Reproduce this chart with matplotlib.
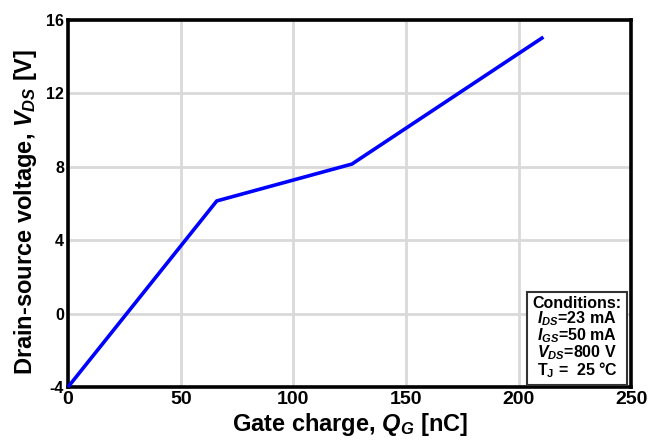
import matplotlib
matplotlib.use("Agg")
import matplotlib.pyplot as plt

# gate charge curve
gate_charge = [0, 66, 126, 211]        # nC
drain_voltage = [-4.0, 6.14, 8.15, 15.07]  # V

x_ticks = [0, 50, 100, 150, 200, 250]
y_ticks = [-4, 0, 4, 8, 12, 16]

conditions = [
    r"$I_{DS}$=23 mA",
    r"$I_{GS}$=50 mA",
    r"$V_{DS}$=800 V",
    r"$\mathrm{T_J}$ =  25 °C",
]

plt.rcParams["font.family"] = ["Liberation Sans", "DejaVu Sans"]
plt.rcParams["font.weight"] = "bold"
plt.rcParams["axes.unicode_minus"] = False
plt.rcParams["mathtext.fontset"] = "custom"
plt.rcParams["mathtext.rm"] = "Liberation Sans:bold"
plt.rcParams["mathtext.it"] = "Liberation Sans:italic:bold"
plt.rcParams["mathtext.bf"] = "Liberation Sans:bold"

fig = plt.figure(figsize=(6.61, 4.40), dpi=100)
ax = fig.add_axes([0.103, 0.1205, 0.852, 0.834])

ax.plot(gate_charge, drain_voltage, color="#0000ff", lw=2.6, zorder=3,
        clip_on=False, solid_capstyle="butt")

ax.set_xlim(0, 250)
ax.set_ylim(-4, 16)
ax.set_xticks(x_ticks)
ax.set_yticks(y_ticks)
ax.grid(True, color="#d9d9d9", lw=2.0, zorder=0)
ax.set_axisbelow(True)
ax.tick_params(axis="x", length=0, labelsize=14, pad=3)
ax.tick_params(axis="y", length=0, labelsize=11.5, pad=3)
for lbl in ax.get_xticklabels() + ax.get_yticklabels():
    lbl.set_fontweight("bold")
for sp in ax.spines.values():
    sp.set_linewidth(2.6)
    sp.set_color("black")

ax.set_xlabel(r"Gate charge, $Q_G$ [nC]", fontsize=17, fontweight="bold", labelpad=2)
ax.set_ylabel(r"Drain-source voltage, $V_{DS}$ [V]", fontsize=17,
              fontweight="bold", labelpad=5)
ax.yaxis.label.set_y(0.477)

# conditions box in the lower right corner
box_text = "Conditions:\n" + "\n".join(conditions)
ax.text(0.983, 0.02, box_text, transform=ax.transAxes, ha="right", va="bottom",
        fontsize=11.5, fontweight="bold", linespacing=0.88, multialignment="center",
        zorder=5,
        bbox=dict(boxstyle="square,pad=0.32", facecolor="white",
                  edgecolor="#333333", lw=1.5))

fig.savefig("out.png", dpi=100)
